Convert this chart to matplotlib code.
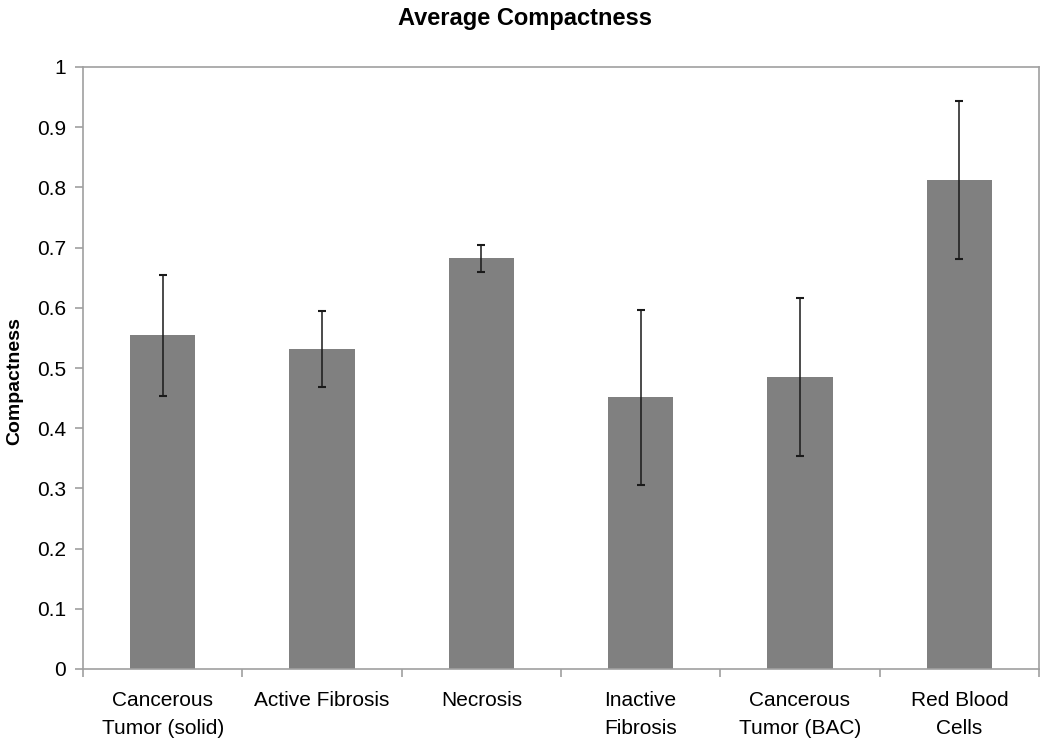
import matplotlib
matplotlib.use("Agg")
import matplotlib.pyplot as plt
import numpy as np

categories = ["Cancerous\nTumor (solid)", "Active Fibrosis", "Necrosis",
              "Inactive\nFibrosis", "Cancerous\nTumor (BAC)", "Red Blood\nCells"]
values = [0.554, 0.531, 0.682, 0.451, 0.485, 0.812]
errors = [0.101, 0.063, 0.022, 0.145, 0.131, 0.131]
yticks = [0, 0.1, 0.2, 0.3, 0.4, 0.5, 0.6, 0.7, 0.8, 0.9, 1]
ytick_labels = ["0", "0.1", "0.2", "0.3", "0.4", "0.5", "0.6", "0.7", "0.8", "0.9", "1"]

plt.rcParams['font.family'] = ['Liberation Sans', 'DejaVu Sans']

fig = plt.figure(figsize=(10.5, 7.48), dpi=100)
ax = fig.add_axes([83/1050, 1 - 669/748, (1039 - 83)/1050, (669 - 67)/748])

x = np.arange(len(categories))
ax.bar(x, values, width=0.41, color="#808080", zorder=2)
ax.errorbar(x, values, yerr=errors, fmt="none", ecolor="#1a1a1a",
            elinewidth=1.1, capsize=3, capthick=1.5, zorder=3)

ax.set_xlim(-0.5, len(categories) - 0.5)
ax.set_ylim(0, 1)
ax.set_yticks(yticks)
ax.set_yticklabels(ytick_labels, fontsize=15)
ax.set_xticks(x)
ax.set_xticklabels(categories, fontsize=15, linespacing=1.6)
ax.set_xticks(np.arange(-0.5, len(categories), 1.0), minor=True)
ax.tick_params(axis="x", which="major", length=0, pad=16)
ax.tick_params(axis="x", which="minor", length=6, color="#a0a0a0", width=1.2)
ax.tick_params(axis="y", length=6, color="#a0a0a0", width=1.2, pad=6)

for s in ax.spines.values():
    s.set_color("#a0a0a0")
    s.set_linewidth(1.2)

ax.set_ylabel("Compactness", fontsize=14, fontweight="bold")
ax.yaxis.set_label_coords(-0.062, 0.478)
fig.text(0.5, 1 - 19/748, "Average Compactness", fontsize=17, fontweight="bold",
         ha="center", va="center")

fig.savefig("out.png", dpi=100, facecolor="white")
